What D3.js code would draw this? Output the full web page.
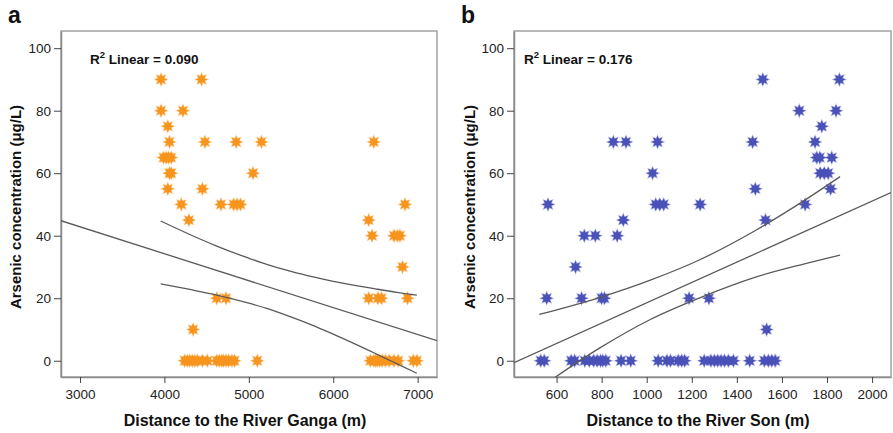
<!DOCTYPE html>
<html>
<head>
<meta charset="utf-8">
<script src="https://cdn.jsdelivr.net/npm/d3@7"></script>
<style>
  body { margin: 0; background: #fff; }
  text { font-family: "Liberation Sans", Arial, sans-serif; }
</style>
</head>
<body>
<div id="chart"></div>
<script>
// panel a: Ganga
const gangaX = [3960, 4440, 3960, 4220, 4040, 4060, 4480, 4850, 5150, 6480,
  3990, 4020, 4050, 4080, 4060, 4080, 5050, 4040, 4450,
  4200, 4670, 4820, 4860, 4900, 6850, 4290, 6420, 6460, 6720, 6760, 6790, 6820,
  4620, 4730, 6420, 6530, 6570, 6880, 4340,
  4240, 4270, 4300, 4330, 4360, 4390, 4450, 4510, 4620, 4650, 4680, 4700, 4730, 4760, 4800, 4830, 5100,
  6440, 6480, 6500, 6520, 6550, 6580, 6620, 6660, 6720, 6770, 6950, 6990];
const gangaY = [90, 90, 80, 80, 75, 70, 70, 70, 70, 70,
  65, 65, 65, 65, 60, 60, 60, 55, 55,
  50, 50, 50, 50, 50, 50, 45, 45, 40, 40, 40, 40, 30,
  20, 20, 20, 20, 20, 20, 10,
  0, 0, 0, 0, 0, 0, 0, 0, 0, 0, 0, 0, 0, 0, 0, 0, 0,
  0, 0, 0, 0, 0, 0, 0, 0, 0, 0, 0, 0];
const gangaFitX = [2775, 7229];
const gangaFitY = [44.8, 6.4];
const gangaBandX = [3956, 4300, 4620, 5000, 5250, 5489, 5750, 6000, 6500, 6750, 6990];
const gangaUpper = [44.7, 40.4, 36.7, 32.8, 30.5, 28.7, 26.9, 25.4, 23.0, 21.9, 21.0];
const gangaLower = [24.6, 22.8, 21.0, 18.4, 16.4, 14.1, 11.4, 8.5, 2.3, -0.9, -4.0];

// panel b: Son
const sonX = [1515, 1855, 1677, 1840, 1777, 852, 908, 1048, 1470, 1747,
  1755, 1768, 1821, 1026, 1770, 1788, 1805, 1482, 1816,
  562, 1040, 1058, 1075, 1237, 1703, 896, 1527, 723, 772, 869, 684,
  556, 711, 800, 812, 1188, 1276, 1532,
  530, 545, 665, 680, 725, 745, 765, 780, 795, 805, 818, 886, 929, 1051, 1090, 1105, 1140, 1155, 1168,
  1255, 1285, 1300, 1315, 1330, 1345, 1362, 1385, 1457, 1522, 1540, 1555, 1570];
const sonY = [90, 90, 80, 80, 75, 70, 70, 70, 70, 70,
  65, 65, 65, 60, 60, 60, 60, 55, 55,
  50, 50, 50, 50, 50, 50, 45, 45, 40, 40, 40, 30,
  20, 20, 20, 20, 20, 20, 10,
  0, 0, 0, 0, 0, 0, 0, 0, 0, 0, 0, 0, 0, 0, 0, 0, 0, 0, 0,
  0, 0, 0, 0, 0, 0, 0, 0, 0, 0, 0, 0, 0];
const sonFitX = [411, 2084];
const sonFitY = [-0.6, 53.8];
const sonBandX = [523, 794, 1016, 1238, 1490, 1700, 1858];
const sonUpper = [14.8, 20.3, 25.8, 32.4, 42.0, 51.3, 58.9];
const sonLower = [-8.8, 4.2, 13.2, 20.2, 26.9, 31.0, 33.8];

const yTicks = [0, 20, 40, 60, 80, 100];
const gangaTicks = [3000, 4000, 5000, 6000, 7000];
const sonTicks = [600, 800, 1000, 1200, 1400, 1600, 1800, 2000];

const W = 893, H = 433;
const svg = d3.select("#chart").append("svg").attr("width", W).attr("height", H);

const star = d3.lineRadial()
  .angle((d, i) => i * Math.PI / 8)
  .radius((d, i) => i % 2 ? 3.4 : 6.2)
  .curve(d3.curveLinearClosed)(d3.range(16));

function panel(o) {
  const g = svg.append("g");
  const x = d3.scaleLinear().domain(o.xDomain).range([o.left, o.right]);
  const y = d3.scaleLinear().domain([-5.2, 105.5]).range([377, 31]);

  g.append("clipPath").attr("id", o.id)
    .append("rect").attr("x", o.left).attr("y", 31)
    .attr("width", o.right - o.left).attr("height", 346);

  g.append("rect").attr("x", o.left).attr("y", 31)
    .attr("width", o.right - o.left).attr("height", 346)
    .attr("fill", "none").attr("stroke", "#a3a3a3").attr("stroke-width", 1.5);

  const ya = g.append("g").attr("transform", `translate(${o.left},0)`)
    .call(d3.axisLeft(y).tickValues(yTicks).tickSize(7).tickSizeOuter(0).tickPadding(3));
  const xa = g.append("g").attr("transform", "translate(0,377)")
    .call(d3.axisBottom(x).tickValues(o.ticks).tickFormat(d3.format("d"))
      .tickSize(6).tickSizeOuter(0).tickPadding(6));
  [ya, xa].forEach(a => {
    a.select(".domain").attr("stroke", "#8a8a8a").attr("stroke-width", 1.5);
    a.selectAll(".tick line").attr("stroke", "#444");
    a.selectAll("text").style("font-size", "13.5px").attr("fill", "#222")
      .style("font-family", "'Liberation Sans', Arial, sans-serif");
  });

  const plot = g.append("g").attr("clip-path", `url(#${o.id})`);
  const pts = o.xs.map((v, i) => ({ x: v, y: o.ys[i] }));
  plot.selectAll(".pt").data(pts).enter().append("path")
    .attr("d", star)
    .attr("transform", d => `translate(${x(d.x)},${y(d.y)})`)
    .attr("fill", o.color).attr("stroke", o.color)
    .attr("stroke-opacity", 0.4).attr("stroke-width", 1.2);

  const line = d3.line().x(d => x(d[0])).y(d => y(d[1])).curve(d3.curveMonotoneX);
  const lines = [
    d3.zip(o.fitX, o.fitY),
    d3.zip(o.bandX, o.upper),
    d3.zip(o.bandX, o.lower)
  ];
  plot.selectAll(".fit").data(lines).enter().append("path")
    .attr("d", line).attr("fill", "none")
    .attr("stroke", "#5a5a5a").attr("stroke-width", 1.3);

  const r2 = g.append("text").attr("x", o.left + o.r2dx).attr("y", 64)
    .style("font-size", "13.5px").style("font-weight", "bold").attr("fill", "#111");
  r2.append("tspan").text("R");
  r2.append("tspan").attr("dy", -6).style("font-size", "9.5px").text("2");
  r2.append("tspan").attr("dy", 6).text(" Linear = " + o.r2);

  g.append("text").attr("x", o.labelX).attr("y", 23)
    .style("font-size", "23px").style("font-weight", "bold").attr("fill", "#111").text(o.label);

  g.append("text")
    .attr("transform", `translate(${o.yLabelX},207) rotate(-90)`)
    .attr("text-anchor", "middle")
    .style("font-size", "15px").style("font-weight", "bold").attr("fill", "#111")
    .text("Arsenic concentration (μg/L)");

  g.append("text").attr("x", o.xLabelX).attr("y", 426).attr("text-anchor", "middle")
    .style("font-size", "16px").style("font-weight", "bold").attr("fill", "#111")
    .text(o.xTitle);
}

panel({
  id: "clipA", left: 61, right: 437, xDomain: [2775, 7229], ticks: gangaTicks,
  xs: gangaX, ys: gangaY, color: "#f7951f",
  fitX: gangaFitX, fitY: gangaFitY, bandX: gangaBandX, upper: gangaUpper, lower: gangaLower,
  r2: "0.090", r2dx: 29, label: "a", labelX: 8, yLabelX: 21, xLabelX: 245,
  xTitle: "Distance to the River Ganga (m)"
});

panel({
  id: "clipB", left: 514, right: 891, xDomain: [411, 2084], ticks: sonTicks,
  xs: sonX, ys: sonY, color: "#4a52b8",
  fitX: sonFitX, fitY: sonFitY, bandX: sonBandX, upper: sonUpper, lower: sonLower,
  r2: "0.176", r2dx: 10, label: "b", labelX: 461, yLabelX: 475, xLabelX: 698,
  xTitle: "Distance to the River Son (m)"
});
</script>
</body>
</html>
